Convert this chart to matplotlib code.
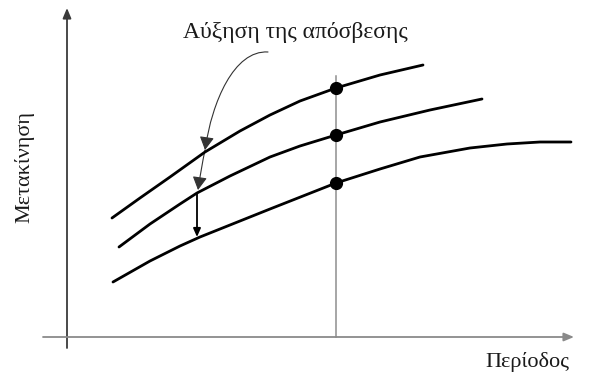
import matplotlib
matplotlib.use("Agg")
import matplotlib.pyplot as plt
from matplotlib.patches import FancyArrowPatch
from matplotlib.path import Path

# displacement vs period for three damping levels (arbitrary units)
period_low = [46, 74, 104, 139, 174, 204, 234, 270, 314, 357]
disp_low = [119, 139, 160, 185, 206, 222, 236, 249, 262, 272]

period_mid = [53, 84, 114, 131, 164, 204, 234, 270, 314, 364, 416]
disp_mid = [90, 113, 133, 144, 161, 180, 191, 202, 215, 227, 238]

period_high = [47, 84, 114, 134, 174, 204, 270, 314, 354, 404, 441, 474, 505]
disp_high = [55, 76, 91, 100, 116, 128, 154, 168, 180, 189, 193, 195, 195]

marked_period = 270
marked_disp = [249, 202, 154]

title_text = "Αύξηση της απόσβεσης"
xlabel_text = "Περίοδος"
ylabel_text = "Μετακίνηση"

serif = ["Liberation Serif", "DejaVu Serif"]

fig = plt.figure(figsize=(5.93, 3.76), dpi=100)
ax = fig.add_axes([0, 0, 1, 1])
ax.set_xlim(-66, 527)
ax.set_ylim(-39, 337)
ax.axis("off")

# axes with arrow heads
ax.annotate("", xy=(1, 329), xytext=(1, -11),
            arrowprops=dict(arrowstyle="-|>,head_length=0.6,head_width=0.25",
                            color="#3a3a3a", lw=1.3, shrinkA=0, shrinkB=0))
ax.annotate("", xy=(508, 0), xytext=(-23, 0),
            arrowprops=dict(arrowstyle="-|>,head_length=0.6,head_width=0.25",
                            color="#8a8a8a", lw=1.3, shrinkA=0, shrinkB=0))

# reference period line
ax.plot([marked_period, marked_period], [0, 261], color="#8e8e8e", lw=1.1)

for px, py in ((period_low, disp_low), (period_mid, disp_mid), (period_high, disp_high)):
    ax.plot(px, py, color="black", lw=2.0, solid_capstyle="round",
            solid_joinstyle="round")
ax.plot([marked_period] * 3, marked_disp, "o", color="black", ms=8.5)

# curved arrow showing the effect of increasing damping
arrow_kw = dict(arrowstyle="-|>,head_length=4,head_width=2.2", color="#333333",
                lw=0.8, shrinkA=0, shrinkB=0, mutation_scale=2)
p1 = Path([(202, 285), (168, 287), (146, 235), (139, 187)],
          [Path.MOVETO, Path.CURVE4, Path.CURVE4, Path.CURVE4])
ax.add_patch(FancyArrowPatch(path=p1, **arrow_kw))
p2 = Path([(139, 187), (135, 168), (132, 147)],
          [Path.MOVETO, Path.CURVE3, Path.CURVE3])
ax.add_patch(FancyArrowPatch(path=p2, **arrow_kw))
ax.annotate("", xy=(131, 100), xytext=(131, 144),
            arrowprops=dict(arrowstyle="-|>,head_length=0.5,head_width=0.22",
                            color="black", lw=1.3, shrinkA=0, shrinkB=0))

ax.text(229, 299, title_text, ha="center", va="baseline", fontsize=17,
        family=serif, color="#1a1a1a")
ax.text(461, -30, xlabel_text, ha="center", va="baseline", fontsize=16,
        family=serif, color="#1a1a1a")
ax.text(-42, 170, ylabel_text, ha="center", va="center", fontsize=16,
        family=serif, color="#1a1a1a", rotation=90)

fig.savefig("out.png", dpi=100)
